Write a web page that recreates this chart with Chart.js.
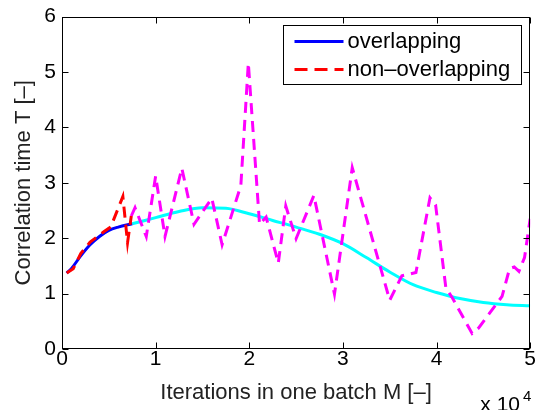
<!DOCTYPE html>
<html>
<head>
<meta charset="utf-8">
<script src="https://cdn.jsdelivr.net/npm/chart.js@4.4.1/dist/chart.umd.min.js"></script>
<style>
  html, body { margin: 0; padding: 0; background: #fff; }
  canvas { display: block; }
</style>
</head>
<body>
<canvas id="chart" width="536" height="410"></canvas>
<script>
// batch size M (iterations) and correlation time T
const overlapM = [500, 1000, 2000, 3000, 4000, 5000, 6000, 7500];
const overlapT = [1.37, 1.45, 1.68, 1.88, 2.03, 2.14, 2.20, 2.26];

const overlapFitM = [7500, 10000, 12500, 15000, 17500, 20000, 22500, 25000, 27500, 30000,
  32500, 35000, 37500, 40000, 42500, 45000, 47500, 50000];
const overlapFitT = [2.26, 2.37, 2.48, 2.55, 2.54, 2.44, 2.32, 2.20, 2.07, 1.90,
  1.65, 1.39, 1.16, 1.02, 0.91, 0.84, 0.80, 0.78];

const nonOverlapM = [500, 1200, 2000, 3000, 4500, 5200, 6500, 7000, 7400];
const nonOverlapT = [1.37, 1.45, 1.72, 1.93, 2.12, 2.20, 2.75, 1.92, 2.40];

const nonOverlapExtM = [7400, 7800, 9000, 10000, 11000, 12800, 14100, 16000, 17100, 19100,
  19900, 21100, 21800, 23100, 23900, 25000, 26900, 29100, 31000, 35000,
  36300, 37800, 39300, 39900, 41000, 41700, 43800, 44500, 47000, 47800,
  48300, 48800, 49400, 50000];
const nonOverlapExtT = [2.40, 2.55, 2.03, 3.12, 2.03, 3.26, 2.25, 2.72, 1.88, 2.95,
  5.16, 2.25, 2.38, 1.55, 2.58, 1.99, 2.77, 0.99, 3.27, 0.88,
  1.32, 1.38, 2.73, 2.60, 1.10, 0.92, 0.28, 0.38, 0.95, 1.45,
  1.48, 1.40, 1.65, 2.35];

const xTicks = [0, 10000, 20000, 30000, 40000, 50000];
const yTicks = [0, 1, 2, 3, 4, 5, 6];

const FONT = "'Liberation Sans', Arial, Helvetica, sans-serif";
Chart.defaults.font.family = FONT;
Chart.defaults.font.size = 21;
Chart.defaults.color = "#000";

const pts = (xs, ys) => xs.map((x, i) => ({ x, y: ys[i] }));
const DASH = [11, 7];

// box, inward ticks, legend and the x 10^4 factor, MATLAB style
const matlabAxes = {
  id: "matlabAxes",
  afterDatasetsDraw(chart) {
    const { ctx, chartArea: a, scales } = chart;
    const L = Math.round(a.left) + 0.5, R = Math.round(a.right) - 0.5;
    const T = Math.round(a.top) + 0.5, B = Math.round(a.bottom) - 0.5;
    ctx.save();
    ctx.strokeStyle = "#000";
    ctx.lineWidth = 1;
    ctx.setLineDash([]);
    ctx.strokeRect(L, T, R - L, B - T);

    const tl = 6;
    ctx.beginPath();
    xTicks.forEach(v => {
      const px = Math.round(scales.x.getPixelForValue(v)) + 0.5;
      ctx.moveTo(px, B); ctx.lineTo(px, B - tl);
      ctx.moveTo(px, T); ctx.lineTo(px, T + tl);
    });
    yTicks.forEach(v => {
      const py = Math.round(scales.y.getPixelForValue(v)) + 0.5;
      ctx.moveTo(L, py); ctx.lineTo(L + tl, py);
      ctx.moveTo(R, py); ctx.lineTo(R - tl, py);
    });
    ctx.stroke();

    // legend
    const items = chart.data.datasets.filter(d => d.inLegend);
    const bw = 238, bh = 59;
    const bx = Math.round(a.right) - 9 - bw + 0.5, by = Math.round(a.top) + 8 + 0.5;
    ctx.fillStyle = "#fff";
    ctx.fillRect(bx, by, bw, bh);
    ctx.strokeRect(bx, by, bw, bh);
    ctx.font = "22px " + FONT;
    ctx.textBaseline = "middle";
    ctx.textAlign = "left";
    items.forEach((d, i) => {
      const yy = by + 16 + i * 28;
      ctx.strokeStyle = d.borderColor;
      ctx.lineWidth = 3;
      ctx.setLineDash(d.borderDash ? [13, 7] : []);
      ctx.beginPath();
      ctx.moveTo(bx + 11, yy);
      ctx.lineTo(bx + 60, yy);
      ctx.stroke();
      ctx.fillStyle = "#000";
      ctx.fillText(d.label, bx + 64, yy);
    });

    // exponent
    ctx.setLineDash([]);
    ctx.fillStyle = "#000";
    ctx.textBaseline = "alphabetic";
    ctx.textAlign = "right";
    ctx.font = "21px " + FONT;
    ctx.fillText("x 10", Math.round(a.right) - 10, 411);
    ctx.textAlign = "left";
    ctx.font = "15px " + FONT;
    ctx.fillText("4", Math.round(a.right) - 7, 401);
    ctx.restore();
  }
};

new Chart(document.getElementById("chart"), {
  type: "line",
  data: {
    datasets: [
      {
        label: "overlapping",
        inLegend: true,
        data: pts(overlapM, overlapT),
        borderColor: "#0000ff",
        borderWidth: 3,
        tension: 0.4,
        cubicInterpolationMode: "monotone",
        order: 3
      },
      {
        label: "overlapping (extended)",
        data: pts(overlapFitM, overlapFitT),
        borderColor: "#00ffff",
        borderWidth: 3,
        cubicInterpolationMode: "monotone",
        order: 4
      },
      {
        label: "non\u2013overlapping",
        inLegend: true,
        data: pts(nonOverlapM, nonOverlapT),
        borderColor: "#ff0000",
        borderWidth: 3,
        borderDash: DASH,
        tension: 0,
        order: 1
      },
      {
        label: "non-overlapping (extended)",
        data: pts(nonOverlapExtM, nonOverlapExtT),
        borderColor: "#ff00ff",
        borderWidth: 3,
        borderDash: DASH,
        tension: 0,
        order: 2
      }
    ]
  },
  options: {
    responsive: false,
    animation: false,
    devicePixelRatio: 1,
    layout: { padding: { top: 15, right: 4, left: 0, bottom: 0 } },
    elements: { point: { radius: 0 } },
    plugins: {
      legend: { display: false },
      tooltip: { enabled: false }
    },
    scales: {
      x: {
        type: "linear",
        min: 0,
        max: 50000,
        afterFit: s => { s.height = 61; },
        afterBuildTicks: s => { s.ticks = xTicks.map(v => ({ value: v })); },
        grid: { display: false, drawTicks: false },
        border: { display: false },
        ticks: {
          padding: 0,
          maxRotation: 0,
          font: { size: 21, lineHeight: 1 },
          callback: v => String(v / 10000)
        },
        title: {
          display: true,
          text: "Iterations in one batch M [\u2013]",
          font: { size: 22 },
          color: "#222",
          padding: { top: 0, bottom: 4 }
        }
      },
      y: {
        min: 0,
        max: 6,
        afterFit: s => { s.width = 62; },
        afterBuildTicks: s => { s.ticks = yTicks.map(v => ({ value: v })); },
        grid: { display: false, drawTicks: false },
        border: { display: false },
        ticks: { padding: 6, font: { size: 21, lineHeight: 1 } },
        title: {
          display: true,
          text: "Correlation time T [\u2013]",
          font: { size: 22 },
          color: "#222",
          padding: { top: 11, bottom: 0 }
        }
      }
    }
  },
  plugins: [matlabAxes]
});
</script>
</body>
</html>
